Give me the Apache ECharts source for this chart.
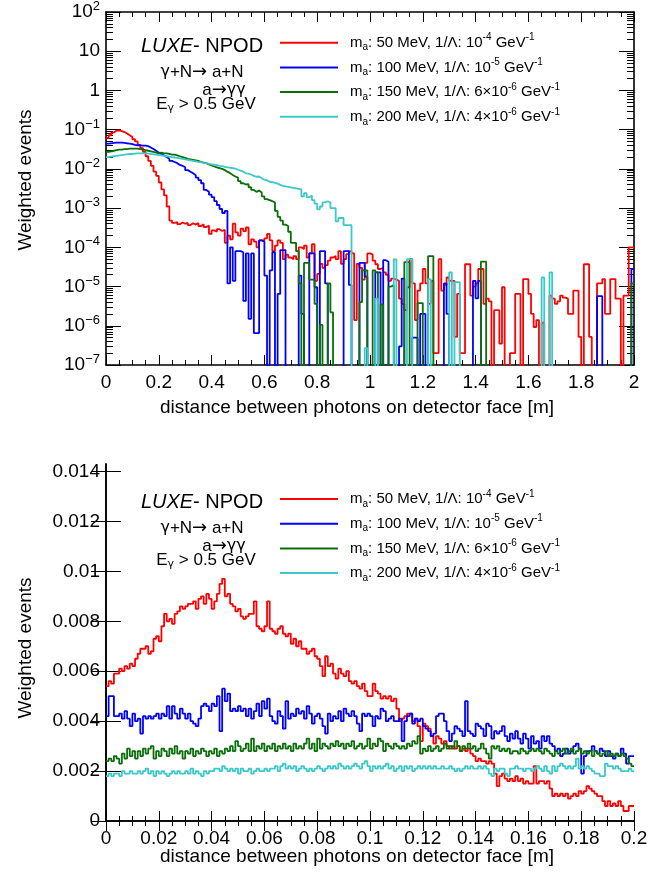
<!DOCTYPE html>
<html><head><meta charset="utf-8">
<script src="https://cdn.jsdelivr.net/npm/echarts@6/dist/echarts.min.js"></script>
<style>html,body{margin:0;padding:0;background:#fff}#c{width:672px;height:879px}</style>
</head><body><div id="c"></div>
<script>
// ---------------- data ----------------
const seriesNames = [
  'm_a: 50 MeV, 1/Λ: 10^-4 GeV^-1',
  'm_a: 100 MeV, 1/Λ: 10^-5 GeV^-1',
  'm_a: 150 MeV, 1/Λ: 6×10^-6 GeV^-1',
  'm_a: 200 MeV, 1/Λ: 4×10^-6 GeV^-1'
];
const legendRich = [
  '{t|m}{sub|a}{t|: 50 MeV, 1/Λ: 10}{sup|-4}{t| GeV}{sup|-1}',
  '{t|m}{sub|a}{t|: 100 MeV, 1/Λ: 10}{sup|-5}{t| GeV}{sup|-1}',
  '{t|m}{sub|a}{t|: 150 MeV, 1/Λ: 6×10}{sup|-6}{t| GeV}{sup|-1}',
  '{t|m}{sub|a}{t|: 200 MeV, 1/Λ: 4×10}{sup|-6}{t| GeV}{sup|-1}'
];
const seriesColors = ['#ff0000', '#0000ff', '#0a6e0a', '#3cc8c8'];

// top panel: 200 bins of 0.01 m, x in [0,2]
const topBinWidth = 0.01;
const topXTicks = [0, 0.2, 0.4, 0.6, 0.8, 1, 1.2, 1.4, 1.6, 1.8, 2];
const topYDecades = [1e-7, 1e-6, 1e-5, 1e-4, 1e-3, 1e-2, 1e-1, 1, 10, 100];

const top50 = [
0.062,0.072,0.085,0.095,0.096,0.092,0.087,0.080,0.072,0.065,
0.057,0.050,0.041,0.034,0.027,0.021,0.016,0.012,0.0085,0.0066,
0.0045,0.0030,0.0021,0.0011,4.8e-4,4.2e-4,4.4e-4,3.9e-4,4.3e-4,4.0e-4,
4.2e-4,3.7e-4,4.1e-4,3.8e-4,4.2e-4,3.5e-4,3.9e-4,3.3e-4,3.6e-4,2.2e-4,
2.7e-4,2.5e-4,2.9e-4,2.6e-4,2.8e-4,1.3e-4,2.0e-4,1.6e-4,4.0e-4,2.4e-4,
2.0e-4,3.0e-4,2.6e-4,3.2e-4,1.2e-4,1.6e-4,1.4e-4,1.0e-4,1.5e-4,1.5e-4,
1.7e-4,2.2e-4,1.5e-4,8.0e-5,1.1e-4,1.5e-4,1.3e-4,5.0e-5,6.5e-5,5.5e-5,
5.0e-5,6.0e-5,5.0e-5,1.0e-4,9.0e-5,1.1e-4,5.5e-5,7.0e-5,1.2e-4,1.4e-5,
2.1e-5,3.8e-5,3.0e-5,3.5e-5,4.6e-5,5.5e-5,6.0e-5,5.0e-5,8.0e-5,3.8e-5,
5.0e-5,6.7e-5,8.0e-5,7.0e-5,1.4e-6,3.8e-5,3.0e-5,1.5e-5,4.0e-5,7.0e-5,
6.6e-5,4.6e-5,3.7e-5,2.8e-5,3.0e-5,2.3e-5,2.0e-5,1.4e-5,1.6e-5,1.5e-5,
1.4e-5,4.9e-6,3.6e-6,2.5e-6,9.6e-6,5.0e-5,1.2e-5,1.4e-6,7.9e-6,1.2e-5,
2.8e-5,1.2e-5,3.6e-6,1.4e-5,2e-7,2e-7,5.0e-5,7.9e-6,1.1e-5,1.7e-5,
1.4e-5,1.4e-5,5.2e-7,6.5e-6,2e-7,2e-7,3.7e-5,3.7e-5,5.9e-6,1.0e-5,
1.2e-5,2.8e-5,2.8e-5,3.6e-6,4.9e-6,4.2e-6,0,2.5e-6,2.5e-6,3.5e-7,
9.6e-6,0,0,2e-7,2e-7,6.5e-6,6.5e-6,0,1.55e-5,1.55e-5,
6.5e-6,2e-6,9.3e-7,1.4e-6,0,1.2e-6,0,0,5.9e-6,4.9e-6,
3.6e-6,4.2e-6,5.9e-6,5.2e-6,4.9e-6,2e-6,2e-6,7.9e-6,7.9e-6,5.2e-7,
0,3.7e-5,3.7e-5,5.2e-7,0,0,1.2e-5,1.2e-5,1.55e-5,2e-6,
2e-6,1.55e-5,1.55e-5,4.9e-6,4.9e-6,0,5.9e-6,5.9e-6,1.0e-4,1.0e-4
];
const top100 = [
0.044,0.045,0.046,0.047,0.047,0.047,0.046,0.045,0.044,0.043,
0.041,0.040,0.040,0.039,0.039,0.038,0.035,0.032,0.029,0.026,
0.024,0.022,0.020,0.018,0.016,0.015,0.014,0.0126,0.012,0.011,
0.0093,0.0085,0.0077,0.0069,0.0060,0.0052,0.0043,0.0029,0.0026,0.0022,
0.0019,0.0015,0.0012,9.5e-4,7.5e-4,8.5e-4,1.2e-5,1.0e-4,1.4e-5,8.0e-5,
8.0e-5,7.5e-5,4.3e-6,7.0e-5,1.5e-6,7.0e-5,6.5e-7,6.5e-7,1.5e-4,1.4e-4,
1.9e-5,0,2.6e-5,7.5e-5,0,6.5e-6,8.5e-5,8.5e-5,0,0,
0,0,0,1.9e-5,2e-6,0,0,7.0e-5,7.0e-5,9.6e-6,
0,8.0e-5,8.0e-5,1.2e-5,0,0,0,0,0,0,
8.0e-5,8.0e-5,1.1e-5,0,0,0,4.0e-5,4.0e-5,1.8e-5,0,
0,0,2.3e-5,2.3e-5,0,4.7e-5,4.3e-5,0,0,0,
0,3e-7,1.6e-5,0,0,0,5e-7,5e-7,0,2e-6,
2e-6,0,0,0,0,0,0,0,1.2e-5,2e-6,
0,0,0,0,0,0,0,0,0,1.4e-5,
5e-6,1.4e-5,0,0,0,0,0,0,0,0,
0,0,0,0,0,0,0,0,0,0,
0,0,0,0,0,0,0,0,0,0,
0,0,0,0,0,0,0,0,0,0,
0,0,0,0,0,0,5.7e-6,5.7e-6,0,0,
0,0,0,0,0,0,0,0,0,2.8e-5
];
const top150 = [
0.027,0.028,0.029,0.030,0.031,0.031,0.032,0.032,0.033,0.033,
0.033,0.033,0.032,0.031,0.030,0.029,0.028,0.027,0.026,0.025,
0.026,0.025,0.025,0.024,0.023,0.023,0.022,0.021,0.020,0.019,
0.018,0.0175,0.017,0.0165,0.016,0.015,0.0145,0.014,0.013,0.0122,
0.0115,0.011,0.0105,0.0100,0.0093,0.0085,0.0078,0.0070,0.0064,0.0060,
0.0049,0.0043,0.0040,0.0041,0.0034,0.0029,0.0026,0.0028,0.0025,0.0020,
0.0017,0.0016,0.0015,0.0014,8.5e-4,6.0e-4,4.8e-4,3.8e-4,3.5e-4,2.5e-4,
1.3e-4,1.3e-4,8.0e-5,1.2e-5,0,4.0e-5,4.0e-5,1.5e-5,1.5e-5,3.6e-6,
0,1.05e-6,0,0,1.2e-5,2.2e-6,0,0,0,0,
0,0,0,0,0,0,4e-6,2.6e-5,2.6e-5,0,
0,2.6e-5,2.3e-5,0,3.5e-6,0,0,1.0e-5,1.1e-5,0,
0,0,0,4.2e-5,4.2e-5,0,0,0,3.8e-6,3.8e-6,
0,0,6.0e-5,6.0e-5,0,0,0,0,0,0,
0,0,0,0,0,0,0,0,0,0,
0,0,4.3e-5,4.3e-5,0,0,0,0,0,0,
0,0,0,0,0,0,0,0,0,0,
0,0,0,0,0,0,0,0,0,0,
0,0,0,0,0,0,0,0,0,0,
0,0,0,0,0,0,0,0,0,0,
0,0,0,0,0,0,0,0,0,1.2e-5
];
const top200 = [
0.0200,0.0205,0.0210,0.0215,0.0220,0.0225,0.0230,0.0235,0.0240,0.0240,
0.0245,0.0250,0.0250,0.0250,0.0250,0.0245,0.0240,0.0235,0.0230,0.0225,
0.0220,0.0215,0.0210,0.0205,0.0200,0.0195,0.0190,0.0185,0.0180,0.0175,
0.0170,0.0165,0.0160,0.0155,0.0150,0.0148,0.0143,0.0140,0.0135,0.0130,
0.0128,0.0124,0.0120,0.0117,0.0113,0.0110,0.0107,0.0105,0.0102,0.0095,
0.0090,0.0085,0.0077,0.0076,0.0072,0.0066,0.0063,0.0064,0.0058,0.0053,
0.0051,0.0047,0.0046,0.0044,0.0042,0.0039,0.0037,0.0036,0.0035,0.0034,
0.0033,0.0032,0.0031,0.0030,0.0020,0.0024,0.0019,0.0021,0.0016,0.0013,
9.3e-4,0.0011,0.0014,0.0015,0.0014,0.0010,0.0010,4.6e-4,5.6e-4,5.6e-4,
3.7e-4,3.7e-4,3.7e-4,0,0,0,0,0,2.7e-7,0,
0,0,4.9e-6,0,0,0,0,0,0,4.9e-5,
0,0,0,0,5.0e-5,5.0e-5,0,0,0,0,
0,0,1.55e-5,0,0,0,0,0,0,0,
2.3e-5,0,1.3e-5,1.3e-5,0,0,0,0,0,0,
0,0,0,0,0,0,0,0,0,0,
0,0,0,0,0,0,0,0,0,0,
0,0,0,0,0,1.7e-5,0,0,2.3e-5,0,
0,0,0,0,0,0,0,0,0,0,
0,0,0,0,0,0,0,0,0,0,
0,0,0,0,0,0,0,0,0,0
];

// bottom panel: 200 bins of 0.001 m, x in [0,0.2]
const botBinWidth = 0.001;
const bot50 = [
0.0054,0.0056,0.0055,0.0059,0.0059,0.0061,0.0060,0.0062,0.0061,0.0063,
0.0062,0.0065,0.0067,0.0069,0.0069,0.0070,0.0067,0.0068,0.0073,0.0074,
0.0072,0.0078,0.0083,0.0080,0.0081,0.0079,0.0083,0.0084,0.0086,0.0085,
0.0086,0.0087,0.0087,0.0088,0.0085,0.0089,0.0090,0.0087,0.0091,0.0089,
0.0085,0.0088,0.0091,0.0095,0.0097,0.0090,0.0091,0.0087,0.0086,0.0084,
0.0085,0.0082,0.0081,0.0082,0.0083,0.0083,0.0088,0.0078,0.0077,0.0076,
0.0078,0.0088,0.0077,0.0076,0.0075,0.0077,0.0078,0.0075,0.0074,0.0075,
0.0071,0.0073,0.0070,0.0072,0.0069,0.0069,0.0067,0.0068,0.0069,0.0066,
0.0065,0.0062,0.0058,0.0066,0.0062,0.0063,0.0059,0.0057,0.0061,0.0059,
0.0058,0.0060,0.0056,0.0055,0.0056,0.0054,0.0053,0.0055,0.0052,0.0050,
0.0050,0.0055,0.0052,0.0051,0.0049,0.0050,0.0049,0.0050,0.0048,0.0049,
0.0045,0.0040,0.0041,0.0042,0.0043,0.0043,0.0040,0.0041,0.0038,0.0032,
0.0039,0.0038,0.0037,0.0034,0.0031,0.0034,0.0033,0.0031,0.0032,0.0030,
0.0029,0.0030,0.0029,0.0030,0.0028,0.0029,0.0028,0.0029,0.0027,0.0026,
0.0024,0.0025,0.0024,0.0024,0.0023,0.0024,0.0023,0.0019,0.0014,0.0018,
0.0019,0.0017,0.0016,0.0017,0.0016,0.0018,0.0016,0.0017,0.0015,0.0016,
0.0015,0.0015,0.0022,0.0015,0.0016,0.0016,0.0015,0.0016,0.0013,0.0010,
0.0011,0.0010,0.0011,0.0010,0.0011,0.0009,0.0010,0.0011,0.0010,0.0012,
0.0011,0.0012,0.0014,0.0013,0.0012,0.0011,0.0010,0.0010,0.0008,0.0006,
0.0008,0.0006,0.0007,0.0006,0.0008,0.0006,0.0004,0.0004,0.0006,0.0006
];
const bot100 = [
0.0042,0.0050,0.0050,0.0042,0.0042,0.0043,0.0041,0.0044,0.0041,0.0038,
0.0043,0.0040,0.0041,0.0035,0.0042,0.0041,0.0042,0.0041,0.0042,0.0043,
0.0041,0.0043,0.0042,0.0046,0.0041,0.0046,0.0043,0.0041,0.0045,0.0043,
0.0041,0.0043,0.0040,0.0039,0.0038,0.0041,0.0046,0.0047,0.0046,0.0044,
0.0047,0.0046,0.0050,0.0036,0.0053,0.0048,0.0051,0.0044,0.0045,0.0044,
0.0046,0.0044,0.0045,0.0042,0.0045,0.0041,0.0044,0.0047,0.0042,0.0048,
0.0045,0.0049,0.0042,0.0040,0.0039,0.0044,0.0042,0.0037,0.0048,0.0041,
0.0043,0.0042,0.0045,0.0043,0.0044,0.0041,0.0046,0.0043,0.0039,0.0042,
0.0043,0.0041,0.0038,0.0035,0.0043,0.0040,0.0042,0.0041,0.0044,0.0040,
0.0045,0.0043,0.0042,0.0044,0.0042,0.0039,0.0036,0.0043,0.0042,0.0043,
0.0042,0.0038,0.0042,0.0041,0.0045,0.0044,0.0040,0.0041,0.0042,0.0040,
0.0040,0.0041,0.0032,0.0040,0.0042,0.0043,0.0039,0.0041,0.0040,0.0041,
0.0038,0.0037,0.0036,0.0034,0.0035,0.0042,0.0043,0.0043,0.0040,0.0036,
0.0032,0.0035,0.0038,0.0037,0.0036,0.0034,0.0048,0.0036,0.0035,0.0034,
0.0039,0.0038,0.0037,0.0034,0.0039,0.0038,0.0033,0.0036,0.0035,0.0036,
0.0038,0.0034,0.0032,0.0035,0.0033,0.0036,0.0033,0.0031,0.0035,0.0033,
0.0029,0.0034,0.0031,0.0032,0.0029,0.0034,0.0032,0.0034,0.0031,0.0030,
0.0028,0.0029,0.0026,0.0027,0.0029,0.0027,0.0028,0.0030,0.0031,0.0029,
0.0019,0.0026,0.0028,0.0028,0.0030,0.0028,0.0027,0.0029,0.0028,0.0026,
0.0028,0.0026,0.0025,0.0027,0.0026,0.0029,0.0027,0.0023,0.0026,0.0026
];
const bot150 = [
0.0024,0.0025,0.0024,0.0026,0.0025,0.0023,0.0027,0.0025,0.0029,0.0026,
0.0028,0.0025,0.0028,0.0026,0.0029,0.0027,0.0029,0.0030,0.0025,0.0028,
0.0026,0.0029,0.0028,0.0026,0.0029,0.0027,0.0030,0.0027,0.0028,0.0025,
0.0028,0.0027,0.0029,0.0026,0.0028,0.0027,0.0029,0.0028,0.0026,0.0028,
0.0027,0.0029,0.0026,0.0028,0.0027,0.0029,0.0028,0.0030,0.0028,0.0032,
0.0030,0.0028,0.0029,0.0031,0.0028,0.0033,0.0028,0.0030,0.0029,0.0031,
0.0028,0.0030,0.0029,0.0031,0.0028,0.0030,0.0029,0.0031,0.0029,0.0030,
0.0028,0.0031,0.0029,0.0030,0.0029,0.0031,0.0033,0.0029,0.0031,0.0028,
0.0033,0.0029,0.0031,0.0030,0.0029,0.0031,0.0030,0.0032,0.0030,0.0031,
0.0029,0.0031,0.0030,0.0032,0.0029,0.0030,0.0031,0.0029,0.0030,0.0033,
0.0029,0.0031,0.0030,0.0033,0.0032,0.0028,0.0031,0.0030,0.0029,0.0031,
0.0030,0.0029,0.0030,0.0029,0.0031,0.0030,0.0032,0.0031,0.0034,0.0027,
0.0029,0.0028,0.0030,0.0028,0.0029,0.0030,0.0028,0.0029,0.0031,0.0029,
0.0030,0.0029,0.0032,0.0030,0.0028,0.0030,0.0029,0.0031,0.0029,0.0030,
0.0028,0.0029,0.0031,0.0029,0.0027,0.0025,0.0030,0.0029,0.0030,0.0028,
0.0029,0.0028,0.0029,0.0027,0.0028,0.0028,0.0027,0.0029,0.0028,0.0027,
0.0028,0.0029,0.0028,0.0029,0.0028,0.0027,0.0029,0.0028,0.0027,0.0026,
0.0028,0.0027,0.0028,0.0029,0.0027,0.0028,0.0029,0.0027,0.0028,0.0029,
0.0027,0.0028,0.0027,0.0028,0.0026,0.0028,0.0027,0.0026,0.0027,0.0028,
0.0026,0.0027,0.0026,0.0027,0.0026,0.0027,0.0026,0.0025,0.0023,0.0022
];
const bot200 = [
0.0018,0.0019,0.0018,0.0019,0.0019,0.0018,0.0020,0.0019,0.0019,0.0020,
0.0019,0.0019,0.0020,0.0019,0.0020,0.0021,0.0019,0.0020,0.0018,0.0020,
0.0019,0.0020,0.0019,0.0018,0.0019,0.0020,0.0019,0.0020,0.0019,0.0019,
0.0020,0.0019,0.0021,0.0019,0.0020,0.0019,0.0018,0.0020,0.0019,0.0020,
0.0020,0.0021,0.0021,0.0020,0.0022,0.0021,0.0020,0.0021,0.0020,0.0021,
0.0019,0.0021,0.0020,0.0020,0.0021,0.0019,0.0020,0.0021,0.0020,0.0020,
0.0021,0.0020,0.0021,0.0021,0.0022,0.0020,0.0022,0.0023,0.0021,0.0022,
0.0021,0.0022,0.0020,0.0021,0.0022,0.0021,0.0020,0.0021,0.0020,0.0021,
0.0022,0.0021,0.0020,0.0021,0.0022,0.0021,0.0022,0.0021,0.0023,0.0022,
0.0021,0.0022,0.0021,0.0022,0.0023,0.0022,0.0021,0.0023,0.0024,0.0022,
0.0020,0.0022,0.0021,0.0022,0.0021,0.0022,0.0023,0.0021,0.0022,0.0020,
0.0021,0.0022,0.0020,0.0022,0.0021,0.0022,0.0020,0.0021,0.0022,0.0021,
0.0022,0.0021,0.0022,0.0021,0.0022,0.0021,0.0021,0.0022,0.0021,0.0021,
0.0022,0.0021,0.0020,0.0021,0.0020,0.0021,0.0022,0.0021,0.0022,0.0021,
0.0021,0.0022,0.0021,0.0022,0.0021,0.0019,0.0018,0.0021,0.0020,0.0021,
0.0021,0.0019,0.0018,0.0021,0.0021,0.0022,0.0021,0.0021,0.0020,0.0021,
0.0021,0.0020,0.0021,0.0022,0.0021,0.0020,0.0022,0.0020,0.0019,0.0022,
0.0020,0.0022,0.0023,0.0022,0.0021,0.0022,0.0021,0.0022,0.0025,0.0021,
0.0022,0.0021,0.0022,0.0021,0.0020,0.0019,0.0019,0.0018,0.0018,0.0023,
0.0022,0.0022,0.0021,0.0022,0.0021,0.0020,0.0020,0.0020,0.0021,0.0020
];
const botYTicks = [0, 0.002, 0.004, 0.006, 0.008, 0.01, 0.012, 0.014];

// ---------------- helpers ----------------
const FONT = '"Liberation Sans", Arial, Helvetica, sans-serif';
const SYMFONT = '"DejaVu Sans", "Liberation Sans", sans-serif';
const LOG_FLOOR = 1e-9; // empty bins drawn down to the frame on the log axis
function histPoints(vals, w, floor) {
  const pts = vals.map((v, i) => [Math.round(i * w * 1e6) / 1e6, v > 0 ? v : floor]);
  const last = vals[vals.length - 1];
  pts.push([Math.round(vals.length * w * 1e6) / 1e6, last > 0 ? last : floor]);
  return pts;
}
const logMinor = [];
for (let e = -7; e < 2; e++) for (let m = 2; m <= 9; m++) logMinor.push(+(m * Math.pow(10, e)).toPrecision(3));

const chart = echarts.init(document.getElementById('c'), null, {renderer: 'canvas'});
const black = '#000';
const axLine = {show: true, lineStyle: {color: black, width: 1.6}};

function xAx(grid, pos, max, interval, labels) {
  return {
    type: 'value', gridIndex: grid, position: pos, min: 0, max: max, interval: interval,
    axisLine: axLine,
    axisTick: {show: true, inside: true, length: 10, lineStyle: {color: black, width: 1}},
    minorTick: {show: true, splitNumber: 4, length: 5, lineStyle: {color: black, width: 1}},
    splitLine: {show: false}, minorSplitLine: {show: false},
    axisLabel: labels ? {show: true, fontSize: 19, fontFamily: FONT, color: black, margin: 8} : {show: false}
  };
}
function logAx(pos, labels, minor) {
  const ax = {
    type: 'log', logBase: 10, gridIndex: 0, position: pos, min: 1e-7, max: 100,
    axisLine: minor ? {show: false} : axLine,
    axisTick: {show: true, inside: true, length: minor ? 7 : 15, lineStyle: {color: black, width: 1},
      customValues: minor ? logMinor : topYDecades},
    splitLine: {show: false},
    axisLabel: {show: false}
  };
  if (labels) {
    ax.axisLabel = {
      show: true, customValues: topYDecades, margin: 6, color: black, fontFamily: FONT,
      formatter: v => {
        const e = Math.round(Math.log10(v));
        if (e === 0) return '{b|1}';
        if (e === 1) return '{b|10}';
        return '{b|10}{s|' + (e < 0 ? '\u2212' : '') + Math.abs(e) + '}';
      },
      rich: {
        b: {fontSize: 19, fontFamily: FONT, color: black, lineHeight: 24},
        s: {fontSize: 13, fontFamily: FONT, color: black, lineHeight: 13, verticalAlign: 'top'}
      }
    };
  }
  return ax;
}
function linYAx(pos, labels) {
  return {
    type: 'value', gridIndex: 1, position: pos, min: 0, max: 0.0143, interval: 0.002,
    axisLine: axLine,
    axisTick: {show: true, inside: true, length: 15, lineStyle: {color: black, width: 1}, customValues: botYTicks},
    splitLine: {show: false},
    axisLabel: labels ? {show: true, customValues: botYTicks, fontSize: 19, fontFamily: FONT, color: black, margin: 6} : {show: false}
  };
}

const topData = [top50, top100, top150, top200];
const botData = [bot50, bot100, bot150, bot200];
const series = [];
topData.forEach((d, k) => series.push({
  type: 'line', name: seriesNames[k], xAxisIndex: 0, yAxisIndex: 0, step: 'end',
  data: histPoints(d, topBinWidth, LOG_FLOOR), showSymbol: false, symbol: 'none', clip: true,
  lineStyle: {color: seriesColors[k], width: 1.8}, itemStyle: {color: seriesColors[k]}, silent: true
}));
botData.forEach((d, k) => series.push({
  type: 'line', name: seriesNames[k], xAxisIndex: 2, yAxisIndex: 4, step: 'end',
  data: histPoints(d, botBinWidth, 0), showSymbol: false, symbol: 'none', clip: true,
  lineStyle: {color: seriesColors[k], width: 1.8}, itemStyle: {color: seriesColors[k]}, silent: true
}));

const legendText = {
  padding: [0, 0, 0, 7],
  rich: {
    t: {fontSize: 15, fontFamily: FONT, color: black, lineHeight: 20},
    sup: {fontSize: 10, fontFamily: FONT, color: black, lineHeight: 10, verticalAlign: 'top'},
    sub: {fontSize: 10, fontFamily: FONT, color: black, lineHeight: 10, verticalAlign: 'bottom'}
  }
};
function legendAt(top) {
  return {
    show: true, orient: 'vertical', left: 280, top: top, padding: 0, itemGap: 4.7,
    itemWidth: 58, itemHeight: 2, icon: 'rect', selectedMode: false,
    data: seriesNames,
    formatter: n => legendRich[seriesNames.indexOf(n)],
    textStyle: legendText
  };
}

function labelBlock(dy) {
  const rich = {
    i: {fontSize: 20, fontFamily: FONT, fontStyle: 'italic', color: black},
    n: {fontSize: 20, fontFamily: FONT, color: black},
    t: {fontSize: 17, fontFamily: FONT, color: black, lineHeight: 20},
    g: {fontSize: 16, fontFamily: SYMFONT, color: black, lineHeight: 20},
    ar: {fontSize: 18, fontFamily: SYMFONT, color: black, lineHeight: 20},
    sb: {fontSize: 11, fontFamily: SYMFONT, color: black, lineHeight: 10, verticalAlign: 'bottom'}
  };
  return [
    {type: 'text', x: 202, y: 46 + dy, style: {text: '{i|LUXE}{n|- NPOD}', rich, align: 'center', verticalAlign: 'middle'}},
    {type: 'text', x: 202, y: 72 + dy, style: {text: '{g|γ}{t|+N}{ar|→}{t| a+N}', rich, align: 'center', verticalAlign: 'middle'}},
    {type: 'text', x: 224, y: 90 + dy, style: {text: '{t|a}{ar|→}{g|γγ}', rich, align: 'center', verticalAlign: 'middle'}},
    {type: 'text', x: 206, y: 104 + dy, style: {text: '{t|E}{sb|γ}{t| > 0.5 GeV}', rich, align: 'center', verticalAlign: 'middle'}}
  ];
}
function titles(cy, xTitleY) {
  return [
    {type: 'text', x: 26, y: cy, rotation: Math.PI / 2,
      style: {text: 'Weighted events', fontSize: 19, fontFamily: FONT, fill: black, align: 'center', verticalAlign: 'middle'}},
    {type: 'text', x: 357, y: xTitleY,
      style: {text: 'distance between photons on detector face [m]', fontSize: 19, fontFamily: FONT, fill: black, align: 'center', verticalAlign: 'middle'}}
  ];
}

chart.setOption({
  animation: false,
  backgroundColor: '#fff',
  grid: [
    {left: 106, top: 9, width: 528, height: 356, containLabel: false},
    {left: 106, top: 464, width: 528, height: 357, containLabel: false}
  ],
  xAxis: [
    xAx(0, 'bottom', 2, 0.2, true),
    xAx(0, 'top', 2, 0.2, false),
    xAx(1, 'bottom', 0.2, 0.02, true),
    xAx(1, 'top', 0.2, 0.02, false)
  ],
  yAxis: [
    logAx('left', true, false),
    logAx('left', false, true),
    logAx('right', false, false),
    logAx('right', false, true),
    linYAx('left', true),
    linYAx('right', false)
  ],
  legend: [legendAt(32.7), legendAt(489)],
  graphic: [].concat(labelBlock(0), labelBlock(456), titles(180, 408), titles(648, 857)),
  series: series
});
</script></body></html>
